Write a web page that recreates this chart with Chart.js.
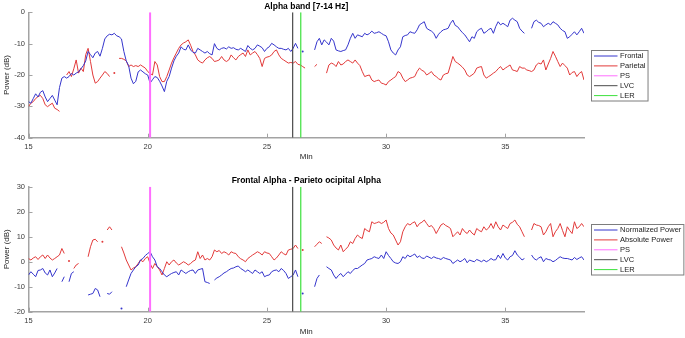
<!DOCTYPE html>
<html>
<head>
<meta charset="utf-8">
<script src="https://cdn.jsdelivr.net/npm/chart.js@4.4.1/dist/chart.umd.min.js"></script>
<style>
  html, body { margin: 0; padding: 0; background: #fff; }
  #wrap { position: relative; width: 685px; height: 338px; }
  canvas { position: absolute; left: 0; }
</style>
</head>
<body>
<div id="wrap">
  <canvas id="alpha" width="685" height="169" style="top:0"></canvas>
  <canvas id="diff" width="685" height="169" style="top:169px"></canvas>
</div>
<script>
// sampling of the recordings: one value every 0.1 min, starting at 15 min
const tStart = 15, tStep = 0.1;

const xTicks = [15, 20, 25, 30, 35];
const alphaTicks = [0, -10, -20, -30, -40];
const diffTicks = [30, 20, 10, 0, -10, -20];

// event markers (min)
const psMin = 20.1, lvcMin = 26.08, lerMin = 26.42;

// Alpha band power (dB)
const frontal = [
  -28.5,-29,-27.5,-26,-27,-25.5,-25,-27,-28.5,-27.5,
  -26.5,-28,-29.5,-24,-21,-20.5,-21,-20.5,-19.5,-20,
  -19.4,-19,-18,-17,-15.5,-12.5,-13.5,-14.5,-13,-12.5,
  -14,-11.5,-8.5,-7.5,-7,-7.2,-6.7,-7.5,-7.8,-8.5,
  -12.5,-15.5,-17,-21,-22.8,-22,-19,-18.4,-19,-19.6,
  -20,-22.6,-21.5,-20.5,-20.8,-22,-23.5,-25.3,-22,-20.5,
  -17.8,-15.5,-14,-13,-11,-11.8,-12,-10.4,-12,-12.8,
  -13,-11.5,-12,-12.5,-13,-12.5,-13.2,-13.6,-10,-11.5,
  -12,-11.5,-11.3,-11.7,-11,-11.5,-11.3,-11.8,-12,-11.5,
  -12,-12.5,-10.6,-11.5,-12,-11.5,-10.4,-10.8,-11.3,-12.5,
  -11.5,-11,-9.9,-10.4,-11,-11.5,-11.5,-11.8,-12,-11.5,
  -12.5,-11.5,-9.9,-11.5,null,-12.5,null,null,null,null,
  -12,-9.4,-8.3,-10.4,-8.8,-9.5,-10.4,-8.3,-9.2,-12,
  -12.3,-12.5,-12.2,-12,-10.4,-8.3,-6.7,-8.3,-7.2,-7.5,
  -7.8,-6.7,-7.2,-6.8,-6,-6.7,-6.5,-6.2,-6.7,-7.2,
  -7.5,-9.4,-12,-13,-13.6,-12,-11,-7.8,-7.4,-7.2,
  -6.2,-6.5,-6.7,-5.6,-4,-3.5,-3,-5.1,-5.6,-6,
  -6.7,-8.3,-7,-6.2,-5.6,-5.4,-5.1,-3.5,-2.5,-4.2,
  -4.6,-5.6,-6.5,-7.2,-8.3,-9.4,-7.8,-8.3,-6.2,-5.5,
  -5.1,-6.7,-6.2,-5.5,-5.1,-6.7,-4.5,-3,-4,-3.5,
  -4,-4.6,-2.5,-1.9,-2.5,-3,-5.1,-6,-6.7,null,
  null,-5.1,-3,-2.5,-3.2,-3.5,-4.6,-4,-3.5,-4,
  -3,-3.5,-4,-5.1,-5.8,-6.2,-8.3,-7.8,-7,-6.2,
  -7.2,-6.2,-5.1,-6.7
];
const parietal = [
  -30.1,-29,-28.5,-27.5,-26.9,-26.5,-27.5,-29.5,-30.1,-29.5,
  -29,-30.6,-31,-31.6,null,null,-20,-18.9,-20.5,-18,
  -15.2,-19.4,-17.8,-18.9,-13.5,-11.5,-15.7,-20,-22.6,-22.1,
  -21,-20,-18.9,-19.5,-20.5,null,-19.4,null,-14.7,-14.7,
  -15,-15.5,-17.3,-16.8,-17.3,-17,-17.3,-16.8,-17.3,-17.8,
  -18.9,-19.5,-20,-15.7,-16.8,-20.5,-22.1,-22.1,-20.5,-18.4,
  -16.2,-14.5,-13,-11.5,-10.4,-9.8,-9.4,-8.8,-10.5,-12.5,
  -13.6,-15.2,-15.8,-16.2,-15.2,-14.5,-14.1,-14.7,-15.7,-15.5,
  -15.2,-14.1,-15.2,-15.7,-15.2,-13.6,-14.5,-15.2,-14.1,-13.5,
  -13,-14.1,-12,-13.6,-13,-12.5,-13.5,-14.7,-17.3,-14.7,
  -14.3,-14.1,-13.6,-12.5,-12,-13.6,-14.7,-15.2,-15.7,-16.2,
  -16,-16.2,-15.7,-16.6,-16.8,-17.3,-17.8,null,null,null,
  -17.3,-16.6,null,null,null,-19.4,-16.8,-16.2,-16.5,-17.3,
  -15.7,-16.8,-16.5,-15.7,-15.2,-15.7,-16.2,-15.2,-16.2,-17,
  -18.9,-20.5,-20.2,-20,-21.6,-22.1,-21.8,-21.6,-22.6,-22.8,
  -23.2,-22.1,-21.6,-21,-20.5,-18.9,-19.4,-21,-22.1,-21.6,
  -21,-20.8,-20.5,-18.9,-17.8,-18.5,-18.9,-20,-19.5,-18.9,
  -20,-20.5,-21.2,-21.6,-20,-19.6,-19.4,-16.8,-14.1,-15.7,
  -16.2,-16.8,-17.5,-18.4,-20,-20.5,-20,-19.4,-17.8,-17.5,
  -17.3,-20,-21,-20.5,-20,-19.4,-18.9,-18,-17.3,-18.4,
  -17.8,-17.3,-16.8,-18.4,-18.6,-18.9,-17.3,-17.8,-17.8,-18.4,
  -18.6,-18.9,-18.4,-16.8,-16.2,-16.5,-15.2,-18.4,-16.5,-14.7,
  -12.5,-14,-15.7,-17.3,-16.2,-17,-17.8,-20,-19.2,-18.9,
  -20.5,-19.5,-18.9,-21.6
];

// Frontal alpha - parieto occipital alpha (dB)
const normalized = [
  -5.3,-4,-5,-6,-3.5,-3.3,-2.7,-4.5,-5.3,-3.3,
  -6,-4.5,-2.7,null,-8,-6,null,-8,-4.7,-4,
  null,null,null,null,null,-13.3,-13,-12.7,-10.7,-11.3,
  -14,null,null,-12.7,-13,-12,null,null,null,-18.7,
  null,-10,-7.3,-4.7,-3.3,-2,-1.3,0.7,1.3,2.5,
  3.3,4,2,0.7,-2,-2.7,-4,-5.3,-6,-5.3,
  -4.7,-4.3,-4,-5.3,-3.3,-4,-4.7,-4,-3.5,-3.3,
  -4.7,-3.3,-3,-2.7,-8,-8.3,-8.7,null,-7.3,-6.5,
  -6,-5.3,-4.5,-4,-3.3,-2.7,-2.5,-2,-1.7,-2.7,
  -3.3,-4,-3.3,-4,-4.7,-3.3,-4,-4.7,-4,-6,
  -5.5,-5.3,-4,-3.5,-3.3,-4,-2.7,-3.5,-4.7,-6.7,
  -6,-5.3,-3.3,-6,null,-12.7,null,null,null,null,
  -10,-6.7,-5.3,null,null,-2,-2.7,-3.3,-5.3,-6.7,
  -5.5,-4.7,-6,-5,-4,-4.7,-3.5,-2.7,-2.7,-2,
  -1.3,-0.7,0.7,1,1.3,2,1.6,1.3,2.7,1.3,
  4,2.5,1.3,0,-0.5,-0.7,0,2,1.3,2.7,
  2,2.5,3.1,1.7,2.3,1.5,1.3,2.3,1.8,1.3,
  2,1.5,1.3,0.9,1.7,1.3,1,0.7,-0.7,0,
  0.7,0,0.5,1.3,-0.4,0.7,0.3,0,0.9,0.5,
  0,0.7,0,0.5,1.3,0.7,0.8,2.7,1.3,3.3,
  1.5,0.7,2,2.5,4.4,2.7,1.8,0.7,1.3,null,
  null,2.7,1.3,0.7,1.5,2,0,1.3,0.9,0.7,
  0,0.5,1.3,2,1.5,1.3,1.3,1,0.7,1.7,
  0.9,1.5,2,0.7
];
const absolute = [
  1.3,0.7,1.5,2,0.9,2,2.7,1.3,2.7,1.5,
  0.7,1.3,2,2.7,5.3,3.3,null,0.3,null,-2.7,
  -1.3,-0.7,null,null,null,2,6,8.7,9,8,
  null,8,null,12.7,14,12.7,null,null,null,6,
  3.5,0.7,-1.3,-3.3,-2.5,-2,-0.7,0.7,0,1.3,
  2,-0.7,-2.7,-0.7,-2,-3.3,-5.3,-2.7,0,-1.3,
  0,0.7,-0.5,-1.3,-0.7,0,-0.5,-1.3,-0.7,0.2,
  0.7,4,1.3,2.7,0.7,1.3,0.7,2,4.7,4,
  4.5,3.3,4,3.5,2.7,4,3.5,3.3,2,1.2,
  0.7,0,1.3,2,2.7,3.3,4,3.5,2.7,4,
  3.5,3.3,2,0.7,1.5,2.7,4,3.2,2.7,4.7,
  5,5.3,6.7,5.3,null,4.7,null,null,null,null,
  6,7,8,7.3,null,10,9.5,8.7,6.7,5.5,
  4.7,6.7,4,5,6,8,7.3,9.3,10.7,9.8,
  9.3,13.3,12.5,12,16,15.3,15.6,16,15.3,15.8,
  16.7,13.3,11.5,10.7,8.7,6.7,8,12,14,15.3,
  14.7,15.5,16,14,15.3,15.8,16.7,15.3,14,14.5,
  13.3,11.3,13,14.7,15.3,14.5,14,13.3,10,11,
  12,10.7,13.3,12,11.3,12.7,11.5,10.7,13.3,12.5,
  12,14,12.7,13.5,15.3,13.3,16,14,12.7,14.7,
  14,13.3,15.3,15.8,16.7,15,14,12,10,null,
  null,12.7,15.3,14.7,14.5,14,10.7,12,14,15.3,
  10,12,13.3,15.3,12.5,10,14,12.5,11.3,16,
  13.3,14,15.3,14
];

const FONT = '"Liberation Sans", Arial, sans-serif';
const axisGray = '#a3a3a3';
const blue = '#3535cc', red = '#e23a3a', pink = '#ff6eff', dark = '#4a4a4a', green = '#3de03d';

const toPoints = vals => vals.map((v, i) => ({ x: +(tStart + i * tStep).toFixed(1), y: v }));
const eventLine = (t, lo, hi) => [{ x: t, y: lo }, { x: t, y: hi }];

// single samples between gaps show up as dots in the original
function loneDot(ctx) {
  if (ctx.type !== 'data') return 0;
  const d = ctx.dataset.data, i = ctx.dataIndex;
  const p = d[i - 1], n = d[i + 1];
  return d[i].y != null && (!p || p.y == null) && (!n || n.y == null) ? 1 : 0;
}

// inward tick marks + boxed legend, matlab style
const matlabLook = {
  id: 'matlabLook',
  afterDraw(chart) {
    const { ctx, chartArea: a, scales: { x, y } } = chart;
    ctx.save();
    ctx.strokeStyle = axisGray;
    ctx.lineWidth = 1;
    x.ticks.forEach(t => {
      const px = Math.round(x.getPixelForValue(t.value)) + 0.5;
      ctx.beginPath(); ctx.moveTo(px, a.bottom); ctx.lineTo(px, a.bottom - 4); ctx.stroke();
    });
    y.ticks.forEach(t => {
      const py = Math.round(y.getPixelForValue(t.value)) + 0.5;
      ctx.beginPath(); ctx.moveTo(a.left, py); ctx.lineTo(a.left + 4, py); ctx.stroke();
    });

    const sets = chart.data.datasets;
    ctx.font = '7.5px ' + FONT;
    const textW = Math.max(...sets.map(s => ctx.measureText(s.label).width));
    const rowH = 9.9, w = 28.6 + textW + 2.5, h = rowH * sets.length + 1;
    const left = Math.round(a.right + 6.7) + 0.5;
    const top = Math.round((a.top + a.bottom) / 2 - h / 2) + 0.5;
    ctx.fillStyle = '#fff';
    ctx.fillRect(left, top, w, h);
    ctx.strokeStyle = '#7d7d7d';
    ctx.strokeRect(left, top, w, h);
    ctx.textBaseline = 'middle';
    sets.forEach((s, i) => {
      const cy = top + 5.5 + i * rowH;
      ctx.strokeStyle = s.borderColor;
      ctx.lineWidth = 1;
      ctx.beginPath(); ctx.moveTo(left + 2.5, cy); ctx.lineTo(left + 26, cy); ctx.stroke();
      ctx.fillStyle = '#222';
      ctx.fillText(s.label, left + 28.6, cy);
    });
    ctx.restore();
  }
};

function makeChart(id, o) {
  const series = o.series.map(s => ({
    label: s.label,
    data: toPoints(s.values),
    borderColor: s.color,
    borderWidth: 1,
    pointRadius: loneDot,
    pointBackgroundColor: s.color,
    pointBorderWidth: 0,
    spanGaps: false,
    order: 2
  }));
  const marks = [
    { label: 'PS', t: psMin, color: pink, width: 2 },
    { label: 'LVC', t: lvcMin, color: dark, width: 1.2 },
    { label: 'LER', t: lerMin, color: green, width: 1.2 }
  ].map(m => ({
    label: m.label,
    data: eventLine(m.t, o.yMin, o.yMax),
    borderColor: m.color,
    borderWidth: m.width,
    pointRadius: 0,
    order: 1
  }));

  return new Chart(document.getElementById(id), {
    type: 'line',
    data: { datasets: series.concat(marks) },
    options: {
      responsive: false,
      animation: false,
      events: [],
      layout: { padding: { left: 0, right: 101, top: 0, bottom: 0 } },
      plugins: {
        legend: { display: false },
        tooltip: { enabled: false },
        title: {
          display: true,
          text: o.title,
          fullSize: false,
          color: '#000',
          font: { family: FONT, size: 8.5, weight: 'bold', lineHeight: 1.2 },
          padding: o.titlePad
        }
      },
      scales: {
        x: {
          type: 'linear',
          min: 15,
          max: 38.3,
          afterBuildTicks: s => { s.ticks = xTicks.map(v => ({ value: v })); },
          afterFit: s => { s.height = o.xHeight; },
          grid: { display: false, drawTicks: false },
          border: { display: true, color: axisGray, width: 1.5 },
          ticks: { color: '#3b3b3b', padding: 5, font: { family: FONT, size: 7.5 } },
          title: {
            display: true, text: 'Min', color: '#262626',
            font: { family: FONT, size: 8, lineHeight: 1.2 },
            padding: { top: 0, bottom: o.minPad }
          }
        },
        y: {
          min: o.yMin,
          max: o.yMax,
          afterBuildTicks: s => { s.ticks = o.yTicks.map(v => ({ value: v })); },
          afterFit: s => { s.width = 28.5; },
          grid: { display: false, drawTicks: false },
          border: { display: true, color: axisGray, width: 1.5 },
          ticks: { color: '#3b3b3b', padding: 3.5, font: { family: FONT, size: 7.5 } },
          title: {
            display: true, text: 'Power (dB)', color: '#262626',
            font: { family: FONT, size: 8, lineHeight: 1.2 },
            padding: { top: 1.5, bottom: 0 }
          }
        }
      }
    },
    plugins: [matlabLook]
  });
}

makeChart('alpha', {
  title: 'Alpha band [7-14 Hz]',
  titlePad: { top: 1.2, bottom: 0.9 },
  xHeight: 31.3,
  minPad: 7.2,
  yMin: -40, yMax: 0, yTicks: alphaTicks,
  series: [
    { label: 'Frontal', values: frontal, color: blue },
    { label: 'Parietal', values: parietal, color: red }
  ]
});

makeChart('diff', {
  title: 'Frontal Alpha - Parieto ocipital Alpha',
  titlePad: { top: 6.4, bottom: 1.2 },
  xHeight: 26.3,
  minPad: 1.5,
  yMin: -20, yMax: 30, yTicks: diffTicks,
  series: [
    { label: 'Normalized Power', values: normalized, color: blue },
    { label: 'Absolute Power', values: absolute, color: red }
  ]
});
</script>
</body>
</html>
